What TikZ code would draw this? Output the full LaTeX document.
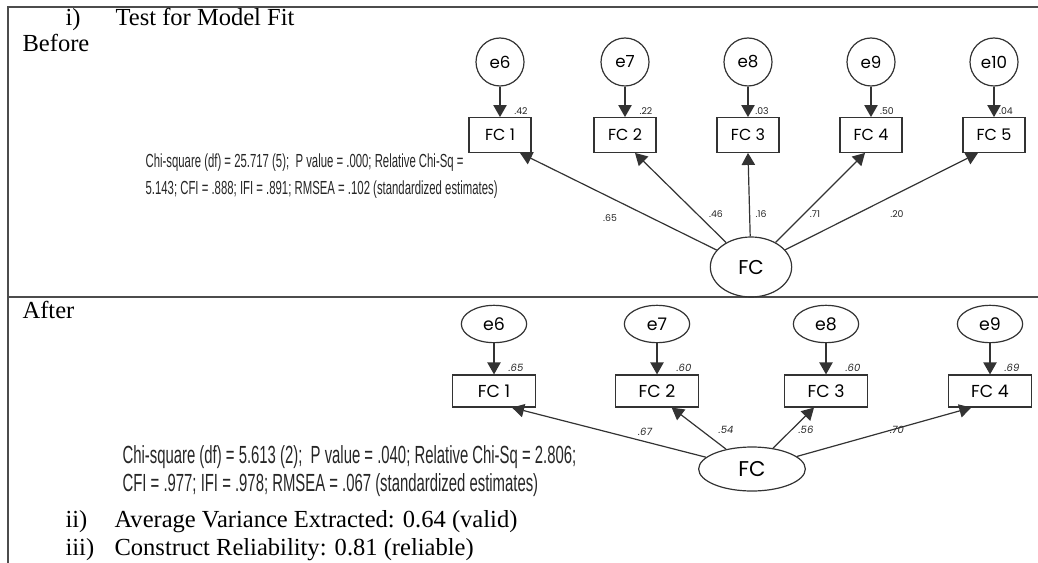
\documentclass[tikz,border=0pt]{standalone}
\usepackage{fontspec}
\setmainfont{Liberation Serif}
\newfontfamily\amosfont{Poppins}
\newfontfamily\condfont[FakeStretch=0.6]{Liberation Sans}
\usetikzlibrary{arrows.meta,shapes.geometric}

\begin{document}
\begin{tikzpicture}[x=0.75pt, y=-0.75pt, line width=0.9pt,
  marco/.style={line width=1.3pt, draw=black!70},
  flecha/.style={draw=black!80, -{Triangle[width=10pt,length=9pt]}},
  errorA/.style={circle, draw=black!80, minimum size=36pt, inner sep=0pt, font=\amosfont\fontsize{12.5}{14}\selectfont},
  errorB/.style={ellipse, draw=black!80, minimum width=49pt, minimum height=28pt, inner sep=0pt, font=\amosfont\fontsize{13}{15}\selectfont},
  itemA/.style={rectangle, draw=black!80, minimum width=46.5pt, minimum height=26pt, inner sep=0pt, font=\amosfont\fontsize{12}{14}\selectfont},
  itemB/.style={rectangle, draw=black!80, minimum width=62pt, minimum height=24pt, inner sep=0pt, font=\amosfont\fontsize{13}{15}\selectfont},
  latenteA/.style={ellipse, draw=black!80, minimum width=61pt, minimum height=45pt, inner sep=0pt, font=\amosfont\fontsize{15}{17}\selectfont},
  latenteB/.style={ellipse, draw=black!80, minimum width=80pt, minimum height=33pt, inner sep=0pt, font=\amosfont\fontsize{16}{18}\selectfont},
  cargaA/.style={inner sep=0pt, text=black!85, font=\amosfont\fontsize{7}{8}\selectfont},
  cargaB/.style={inner sep=0pt, text=black!85, font=\amosfont\itshape\fontsize{7.5}{9}\selectfont},
  ajusteA/.style={anchor=base west, inner sep=0pt, text=black!85, font=\condfont\fontsize{14.2}{16}\selectfont},
  ajusteB/.style={anchor=base west, inner sep=0pt, text=black!85, font=\condfont\fontsize{18.6}{20}\selectfont},
  serif/.style={anchor=base west, inner sep=0pt, font=\fontsize{18.4}{22}\selectfont}]
\useasboundingbox (0,0) rectangle (1038,563);

% Marco de la tabla
\draw[marco] (1038,7) -- (8,7) -- (8,563);
\draw[marco] (8,297) -- (1038,297);

% Titulos
\node[serif] (num1) at (65,26) {i)};
\node[serif] (titulo) at (115,26) {Test for Model Fit};
\node[serif] (antes) at (22,52) {Before};
\node[serif] (despues) at (22,318) {After};

% Modelo antes: errores, items y factor
\node[errorA] (a6) at (500,62) {e6};
\node[errorA] (a7) at (625,62) {e7};
\node[errorA] (a8) at (748,62) {e8};
\node[errorA] (a9) at (871,62) {e9};
\node[errorA] (a10) at (994,62) {e10};
\node[itemA] (afc1) at (500,135) {FC 1};
\node[itemA] (afc2) at (625,135) {FC 2};
\node[itemA] (afc3) at (748,135) {FC 3};
\node[itemA] (afc4) at (871,135) {FC 4};
\node[itemA] (afc5) at (994,135) {FC 5};
\node[latenteA] (afc) at (751,267) {FC};

\draw[flecha] (a6) -- (afc1);
\draw[flecha] (a7) -- (afc2);
\draw[flecha] (a8) -- (afc3);
\draw[flecha] (a9) -- (afc4);
\draw[flecha] (a10) -- (afc5);
\draw[flecha] (afc) -- ([xshift=15pt]afc1.south);
\draw[flecha] (afc) -- ([xshift=7.5pt]afc2.south);
\draw[flecha] (afc) -- (afc3.south);
\draw[flecha] (afc) -- ([xshift=-4.5pt]afc4.south);
\draw[flecha] (afc) -- ([xshift=-12pt]afc5.south);

% Cargas antes
\node[cargaA] (ar1) at (521,111) {.42};
\node[cargaA] (ar2) at (646,111) {.22};
\node[cargaA] (ar3) at (762,111) {.03};
\node[cargaA] (ar4) at (887,111) {.50};
\node[cargaA] (ar5) at (1006,111) {.04};
\node[cargaA] (al1) at (610,218) {.65};
\node[cargaA] (al2) at (716,214) {.46};
\node[cargaA] (al3) at (761,214) {.16};
\node[cargaA] (al4) at (815,214) {.71};
\node[cargaA] (al5) at (897,214) {.20};

\node[ajusteA] (chiA1) at (145,168) {Chi-square (df) = 25.717 (5);\ \ P value = .000; Relative Chi-Sq =};
\node[ajusteA] (chiA2) at (145,195) {5.143; CFI = .888; IFI = .891; RMSEA = .102 (standardized estimates)};

% Modelo despues
\node[errorB] (b6) at (494,324) {e6};
\node[errorB] (b7) at (657,324) {e7};
\node[errorB] (b8) at (826,324) {e8};
\node[errorB] (b9) at (990,324) {e9};
\node[itemB] (bfc1) at (494,391) {FC 1};
\node[itemB] (bfc2) at (657,391) {FC 2};
\node[itemB] (bfc3) at (826,391) {FC 3};
\node[itemB] (bfc4) at (990,391) {FC 4};
\node[latenteB] (bfc) at (752,469) {FC};

\draw[flecha] (b6) -- (bfc1);
\draw[flecha] (b7) -- (bfc2);
\draw[flecha] (b8) -- (bfc3);
\draw[flecha] (b9) -- (bfc4);
\draw[flecha] (bfc) -- ([xshift=13.5pt]bfc1.south);
\draw[flecha] (bfc) -- ([xshift=11pt]bfc2.south);
\draw[flecha] (bfc) -- ([xshift=-9pt]bfc3.south);
\draw[flecha] (bfc) -- ([xshift=-14pt]bfc4.south);

% Cargas despues
\node[cargaB] (br1) at (516,368) {.65};
\node[cargaB] (br2) at (684,368) {.60};
\node[cargaB] (br3) at (853,368) {.60};
\node[cargaB] (br4) at (1012,368) {.69};
\node[cargaB] (bl1) at (645,432) {.67};
\node[cargaB] (bl2) at (726,430) {.54};
\node[cargaB] (bl3) at (806,430) {.56};
\node[cargaB] (bl4) at (897,430) {.70};

\node[ajusteB] (chiB1) at (122,463) {Chi-square (df) = 5.613 (2);\ \ P value = .040; Relative Chi-Sq = 2.806;};
\node[ajusteB] (chiB2) at (122,491) {CFI = .977; IFI = .978; RMSEA = .067 (standardized estimates)};

% Resultados
\node[serif] (num2) at (65,527) {ii)};
\node[serif] (ave) at (114,527) {Average Variance Extracted: 0.64 (valid)};
\node[serif] (num3) at (65,555) {iii)};
\node[serif] (cr) at (114,555) {Construct Reliability: 0.81 (reliable)};
\end{tikzpicture}
\end{document}
